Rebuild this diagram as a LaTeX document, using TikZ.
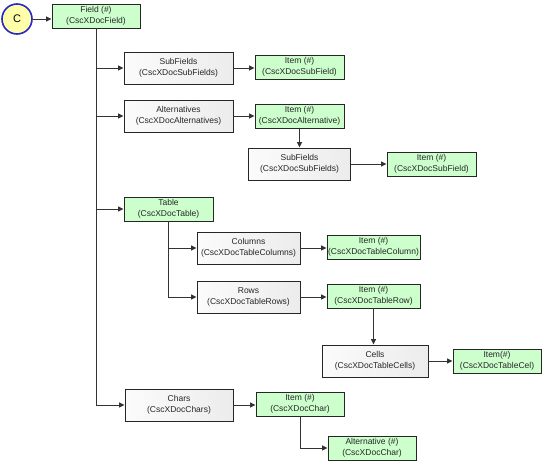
\documentclass[tikz,border=0pt]{standalone}
\usepackage{fontspec}
\setmainfont{Liberation Sans}
\usetikzlibrary{arrows.meta,shadings}
\definecolor{boxgreen}{RGB}{204,255,204}
\definecolor{circyellow}{RGB}{255,255,170}
\definecolor{circblue}{RGB}{40,40,200}
\tikzset{
  base/.style={draw=black!85, line width=0.9pt, align=center, inner sep=0pt,
    font=\fontsize{8.5}{10.5}\selectfont, text=black!85},
  greenbox/.style={base, fill=boxgreen, minimum height=24pt},
  graybox/.style={base, left color=gray!3, right color=gray!15, minimum height=32pt},
  arr/.style={draw=black!80, line width=1pt, -{Triangle[length=5.5pt,width=5pt]}},
}
\begin{document}
\begin{tikzpicture}[x=1pt,y=-1pt]
\useasboundingbox (0,0) rectangle (551,461);
\node[circle, draw=circblue, line width=1.6pt, fill=circyellow, minimum size=30pt, inner sep=0pt,
  font=\fontsize{11}{13}\selectfont] (C) at (17,19) {C};
\node[greenbox, minimum width=88pt] (Field) at (96,16) {Field (\#)\\(CscXDocField)};
\node[graybox, minimum width=109pt] (SubFields) at (178.5,68) {SubFields\\(CscXDocSubFields)};
\node[greenbox, minimum width=89pt] (ItemSF) at (299.5,67) {Item (\#)\\(CscXDocSubField)};
\node[graybox, minimum width=109pt] (Alts) at (178.5,116) {Alternatives\\(CscXDocAlternatives)};
\node[greenbox, minimum width=89pt] (ItemAlt) at (299.5,116) {Item (\#)\\(CscXDocAlternative)};
\node[graybox, minimum width=102pt] (SubFields2) at (299.5,164) {SubFields\\(CscXDocSubFields)};
\node[greenbox, minimum width=89pt] (ItemSF2) at (431.5,164) {Item (\#)\\(CscXDocSubField)};
\node[greenbox, minimum width=89pt] (Table) at (168.5,209) {Table\\(CscXDocTable)};
\node[graybox, minimum width=103pt] (Columns) at (248.5,248) {Columns\\(CscXDocTableColumns)};
\node[greenbox, minimum width=93pt] (ItemCol) at (373.5,247) {Item (\#)\\(CscXDocTableColumn)};
\node[graybox, minimum width=103pt] (Rows) at (248.5,297) {Rows\\(CscXDocTableRows)};
\node[greenbox, minimum width=93pt] (ItemRow) at (373.5,296) {Item (\#)\\(CscXDocTableRow)};
\node[graybox, minimum width=106pt] (Cells) at (375,361) {Cells\\(CscXDocTableCells)};
\node[greenbox, minimum width=88pt] (ItemCel) at (497,361) {Item(\#)\\(CscXDocTableCel)};
\node[graybox, minimum width=108pt] (Chars) at (179,405) {Chars\\(CscXDocChars)};
\node[greenbox, minimum width=88pt] (ItemChar) at (300,404) {Item (\#)\\(CscXDocChar)};
\node[greenbox, minimum width=88pt] (AltChar) at (372,448) {Alternative (\#)\\(CscXDocChar)};
% connectors
\draw[arr] (C) -- (Field.west |- C);
\draw[arr] (Field.south) |- (Chars.west);
\coordinate (t1) at (Field.south |- SubFields.west);
\coordinate (t2) at (Field.south |- Alts.west);
\coordinate (t3) at (Field.south |- Table.west);
\draw[arr] (t1) -- (SubFields.west);
\draw[arr] (t2) -- (Alts.west);
\draw[arr] (t3) -- (Table.west);
\draw[arr] (SubFields.east) -- (SubFields.east -| ItemSF.west);
\draw[arr] (Alts.east) -- (Alts.east -| ItemAlt.west);
\draw[arr] (ItemAlt.south) -- (SubFields2.north);
\draw[arr] (SubFields2.east) -- (ItemSF2.west);
\draw[arr] (Table.south) |- (Rows.west);
\coordinate (t4) at (Table.south |- Columns.west);
\draw[arr] (t4) -- (Columns.west);
\draw[arr] (Columns.east) -- (Columns.east -| ItemCol.west);
\draw[arr] (Rows.east) -- (Rows.east -| ItemRow.west);
\draw[arr] (ItemRow.south) -- (ItemRow.south |- Cells.north);
\draw[arr] (Cells.east) -- (ItemCel.west);
\draw[arr] (Chars.east) -- (Chars.east -| ItemChar.west);
\draw[arr] (ItemChar.south) |- (AltChar.west);
\end{tikzpicture}
\end{document}
